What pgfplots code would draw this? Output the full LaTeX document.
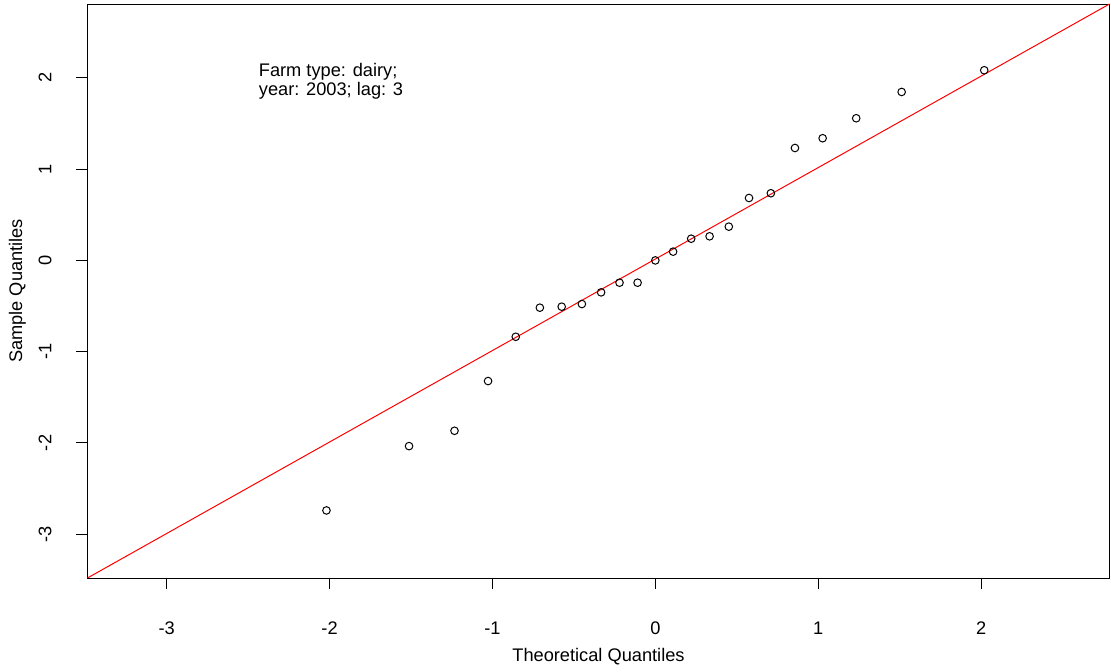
\documentclass[border=0pt]{standalone}
\usepackage{pgfplots}
\pgfplotsset{compat=1.18}
\usepackage{fontspec}
\setmainfont{Liberation Sans}
\begin{document}
\begin{tikzpicture}[font=\fontsize{18.3}{22}\selectfont]
\begin{axis}[name=ax, width=1022bp, height=574bp, scale only axis,
  xmin=-3.486, xmax=2.788, ymin=-3.48, ymax=2.81,
  axis line style={line width=0.9bp, black},
  xtick={-3,-2,-1,0,1,2}, ytick={-3,-2,-1,0,1,2},
  xticklabels={-3,-2,-1,0,1,2}, yticklabels={-3,-2,-1,0,1,2},
  xtick pos=left, ytick pos=left,
  tick align=outside, major tick length=11bp,
  tick style={line width=0.9bp, black},
  xticklabel style={anchor=center}, xticklabel shift=39bp,
  yticklabel style={rotate=90, anchor=center}, yticklabel shift=31.5bp,
  xlabel={Theoretical Quantiles}, ylabel={Sample Quantiles},
  xlabel style={at={([yshift=-79bp]axis description cs:0.5,0)}, anchor=center},
  ylabel style={at={([xshift=-70bp]axis description cs:0,0.5)}, anchor=center, rotate=0},
]
\addplot[red, line width=1bp, no marks] coordinates {(-3.486,-3.48) (2.788,2.81)};
\addplot[only marks, mark=o, mark size=3.8bp, mark options={line width=1bp, black}] coordinates {
(-2.019,-2.74) (-1.512,-2.035) (-1.233,-1.867) (-1.027,-1.322) (-0.857,-0.837)
(-0.709,-0.518) (-0.575,-0.507) (-0.451,-0.478) (-0.333,-0.35) (-0.220,-0.244)
(-0.109,-0.244) (0,0.0) (0.109,0.096) (0.220,0.238) (0.333,0.264) (0.451,0.37)
(0.575,0.684) (0.709,0.736) (0.857,1.232) (1.027,1.339) (1.233,1.558) (1.512,1.846) (2.019,2.084)};
\node[anchor=base west, inner sep=0pt] at (axis cs:-2.435,2.011) {Farm type: dairy;};
\node[anchor=base west, inner sep=0pt] at (axis cs:-2.435,1.803) {year: 2003; lag: 3};
\end{axis}
\pgfresetboundingbox
\path ([xshift=-87.5bp, yshift=-94bp]ax.south west) rectangle ([xshift=1.5bp, yshift=4bp]ax.north east);
\end{tikzpicture}
\end{document}
